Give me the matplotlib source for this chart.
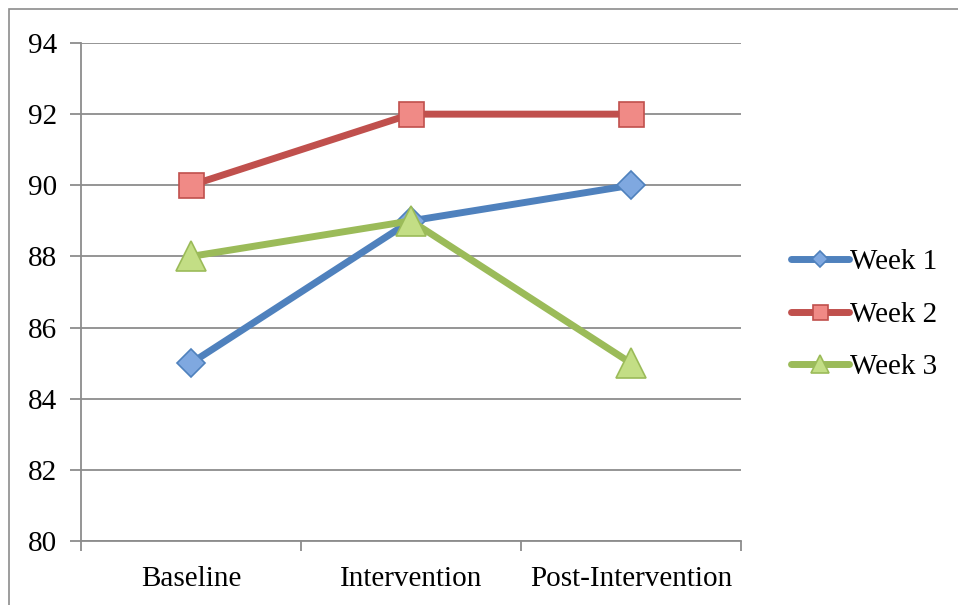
import matplotlib
matplotlib.use("Agg")
import matplotlib.pyplot as plt
from matplotlib.patches import Rectangle

categories = ["Baseline", "Intervention", "Post-Intervention"]
series_names = ["Week 1", "Week 2", "Week 3"]
week1 = [85, 89, 90]
week2 = [90, 92, 92]
week3 = [88, 89, 85]
y_ticks = [80, 82, 84, 86, 88, 90, 92, 94]

plt.rcParams['font.family'] = ['Liberation Serif', 'DejaVu Serif']

W, H = 958, 605
fig = plt.figure(figsize=(W/100, H/100), dpi=100)
# outer chart border
fig.patches.append(Rectangle((9/W, -0.1), 1.2, (H-9)/H + 0.1, transform=fig.transFigure,
                             fill=False, edgecolor="#8c8c8c", linewidth=1.2))

ax = fig.add_axes([81/W, (H-541)/H, 660/W, 498/H])

colors = ["#4F81BD", "#C0504D", "#9BBB59"]
faces = ["#7FA8E0", "#F08A86", "#C3DE85"]
markers = ["D", "s", "^"]
msizes = [14, 18, 21]
x = list(range(len(categories)))
for vals, name, c, f, m, ms in zip([week1, week2, week3], series_names, colors, faces, markers, msizes):
    ax.plot(x, vals, color=c, linewidth=5, marker=m, markersize=ms,
            markerfacecolor=f, markeredgecolor=c, markeredgewidth=1.2,
            label=name, solid_capstyle="round", zorder=3)

ax.set_xlim(-0.5, 2.5)
ax.set_ylim(80, 94)
ax.set_yticks(y_ticks)
ax.set_yticklabels([str(v) for v in y_ticks], fontsize=21)
ax.yaxis.grid(True, color="#8c8c8c", linewidth=1.3)
ax.set_axisbelow(True)

ax.set_xticks([-0.5, 0.5, 1.5, 2.5])
ax.set_xticklabels([])
ax.set_xticks(x, minor=True)
ax.set_xticklabels(categories, minor=True, fontsize=21)
ax.tick_params(axis="x", which="minor", length=0, pad=18)
ax.tick_params(axis="x", which="major", length=7, width=1.3, color="#8c8c8c", direction="out")
ax.tick_params(axis="y", length=8, width=1.3, color="#8c8c8c", pad=9)

for s in ["top", "right"]:
    ax.spines[s].set_visible(False)
for s in ["left", "bottom"]:
    ax.spines[s].set_color("#8c8c8c")
    ax.spines[s].set_linewidth(1.3)

leg = fig.legend(loc="upper left", bbox_to_anchor=(779/W, 1 - 237/H), frameon=False,
                 fontsize=21, handlelength=2.0, handletextpad=0.05, labelspacing=0.9,
                 markerscale=0.6, borderaxespad=0)

fig.savefig("out.png", dpi=100)
